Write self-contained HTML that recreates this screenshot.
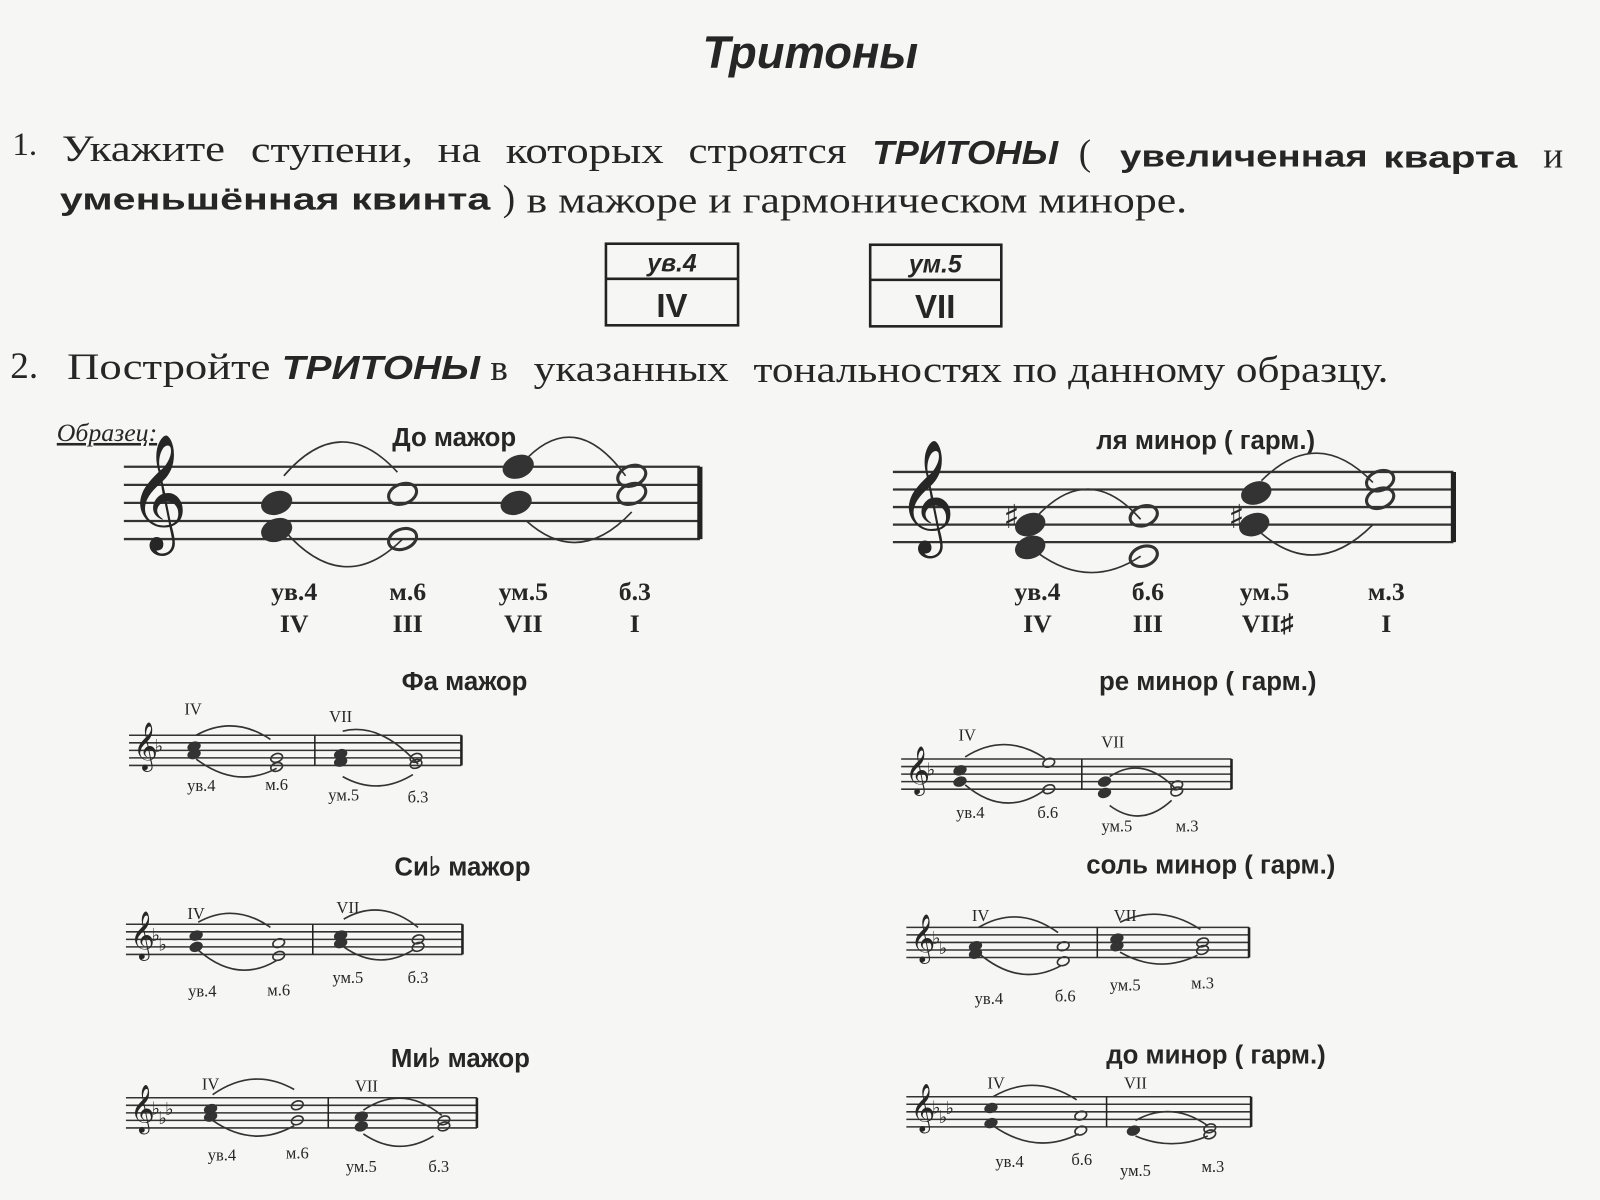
<!DOCTYPE html>
<html><head><meta charset="utf-8"><style>
html,body{margin:0;padding:0;background:#f6f6f4;}
svg{display:block}
text{fill:#262626}
.b{font-family:"Liberation Sans",sans-serif;font-weight:bold}
.s{font-family:"Liberation Serif",serif}
</style></head><body>
<svg width="1600" height="1200" viewBox="0 0 1550 1162" preserveAspectRatio="none" xmlns="http://www.w3.org/2000/svg">
<rect width="1550" height="1162" fill="#f6f6f4"/>
<text x="785" y="66" text-anchor="middle" class="b" font-size="44" font-style="italic" fill="#3a3a3a">Тритоны</text>
<text x="12" y="150" class="s" font-size="32">1.</text>
<g class="s" font-size="36" lengthAdjust="spacingAndGlyphs">
<text x="60" y="156" textLength="158" lengthAdjust="spacingAndGlyphs">Укажите</text>
<text x="243" y="157" textLength="157" lengthAdjust="spacingAndGlyphs">ступени,</text>
<text x="424" y="157" textLength="42" lengthAdjust="spacingAndGlyphs">на</text>
<text x="490" y="158" textLength="153" lengthAdjust="spacingAndGlyphs">которых</text>
<text x="667" y="158" textLength="153" lengthAdjust="spacingAndGlyphs">строятся</text>
<text x="845" y="159" textLength="180" lengthAdjust="spacingAndGlyphs" class="b" font-style="italic" font-size="32">ТРИТОНЫ</text>
<text x="1045" y="160">(</text>
<text x="1085" y="161" textLength="240" lengthAdjust="spacingAndGlyphs" class="b" font-size="30">увеличенная</text>
<text x="1340" y="162" textLength="130" lengthAdjust="spacingAndGlyphs" class="b" font-size="30">кварта</text>
<text x="1495" y="162">и</text>
<text x="58" y="203" textLength="417" lengthAdjust="spacingAndGlyphs" class="b" font-size="30">уменьшённая квинта</text>
<text x="487" y="204">)</text>
<text x="510" y="206" textLength="640" lengthAdjust="spacingAndGlyphs">в мажоре и гармоническом миноре.</text>
</g>
<g fill="none" stroke="#222" stroke-width="2.5">
<rect x="587" y="236" width="128" height="79"/><line x1="587" y1="270" x2="715" y2="270"/>
<rect x="843" y="237" width="127" height="79"/><line x1="843" y1="271" x2="970" y2="271"/>
</g>
<text x="651" y="263" text-anchor="middle" class="b" font-size="24" font-style="italic" fill="#444">ув.4</text>
<text x="651" y="307" text-anchor="middle" font-family="Liberation Sans" font-weight="bold" font-size="32">IV</text>
<text x="906" y="264" text-anchor="middle" class="b" font-size="24" font-style="italic" fill="#444">ум.5</text>
<text x="906" y="308" text-anchor="middle" font-family="Liberation Sans" font-weight="bold" font-size="32">VII</text>
<g class="s" font-size="36">
<text x="10" y="366">2.</text>
<text x="65" y="367" textLength="197" lengthAdjust="spacingAndGlyphs">Постройте</text>
<text x="273" y="367" textLength="192" lengthAdjust="spacingAndGlyphs" class="b" font-style="italic" font-size="32">ТРИТОНЫ</text>
<text x="475" y="368">в</text>
<text x="517" y="369" textLength="189" lengthAdjust="spacingAndGlyphs">указанных</text>
<text x="730" y="370" textLength="615" lengthAdjust="spacingAndGlyphs">тональностях по данному образцу.</text>
</g>
<text x="55" y="427" class="s" font-size="25" font-style="italic" text-decoration="underline" fill="#555">Образец:</text>
<g class="b" font-size="25" text-anchor="middle">
<text x="440" y="432">До мажор</text>
<text x="1168" y="435">ля минор ( гарм.)</text>
<text x="450" y="668">Фа мажор</text>
<text x="1170" y="668">ре минор ( гарм.)</text>
<text x="448" y="848">Си♭ мажор</text>
<text x="1173" y="846">соль минор ( гарм.)</text>
<text x="446" y="1033">Ми♭ мажор</text>
<text x="1178" y="1030">до минор ( гарм.)</text>
</g>
<g class="s" font-weight="bold" font-size="25" text-anchor="middle">
<text x="285" y="581">ув.4</text><text x="285" y="612">IV</text>
<text x="395" y="581">м.6</text><text x="395" y="612">III</text>
<text x="507" y="581">ум.5</text><text x="507" y="612">VII</text>
<text x="615" y="581">б.3</text><text x="615" y="612">I</text>
<text x="1005" y="581">ув.4</text><text x="1005" y="612">IV</text>
<text x="1112" y="581">б.6</text><text x="1112" y="612">III</text>
<text x="1225" y="581">ум.5</text><text x="1228" y="612">VII♯</text>
<text x="1343" y="581">м.3</text><text x="1343" y="612">I</text>
</g>
<g class="s" font-size="16" text-anchor="middle">
<text x="187" y="692">IV</text><text x="330" y="699">VII</text>
<text x="195" y="766">ув.4</text><text x="268" y="765">м.6</text><text x="333" y="775">ум.5</text><text x="405" y="777">б.3</text>
<text x="937" y="717">IV</text><text x="1078" y="724">VII</text>
<text x="940" y="792">ув.4</text><text x="1015" y="792">б.6</text><text x="1082" y="805">ум.5</text><text x="1150" y="805">м.3</text>
<text x="190" y="890">IV</text><text x="337" y="884">VII</text>
<text x="196" y="965">ув.4</text><text x="270" y="964">м.6</text><text x="337" y="952">ум.5</text><text x="405" y="952">б.3</text>
<text x="950" y="892">IV</text><text x="1090" y="892">VII</text>
<text x="958" y="972">ув.4</text><text x="1032" y="970">б.6</text><text x="1090" y="959">ум.5</text><text x="1165" y="957">м.3</text>
<text x="204" y="1055">IV</text><text x="355" y="1057">VII</text>
<text x="215" y="1124">ув.4</text><text x="288" y="1122">м.6</text><text x="350" y="1135">ум.5</text><text x="425" y="1135">б.3</text>
<text x="965" y="1054">IV</text><text x="1100" y="1054">VII</text>
<text x="978" y="1130">ув.4</text><text x="1048" y="1128">б.6</text><text x="1100" y="1139">ум.5</text><text x="1175" y="1135">м.3</text>
</g>
<g id="mus"></g>
</svg>
<script>
const NS="http://www.w3.org/2000/svg",g=document.getElementById('mus');
function el(t,a){const e=document.createElementNS(NS,t);for(const k in a)e.setAttribute(k,a[k]);g.appendChild(e);return e;}
function staff(x1,x2,y0,sp,bars,acc){
 for(let i=0;i<5;i++)el('line',{x1,x2,y1:y0+i*sp,y2:y0+i*sp,stroke:'#333','stroke-width':sp>10?2.2:1.5});
 el('line',{x1:x2,x2:x2,y1:y0,y2:y0+4*sp,stroke:'#222','stroke-width':sp>10?5:2.5});
 bars.forEach(b=>el('line',{x1:b,x2:b,y1:y0,y2:y0+4*sp,stroke:'#222','stroke-width':1.5}));
 const c=el('text',{x:x1+4,y:y0+3.3*sp,'font-size':sp*5.6,'font-family':'DejaVu Sans',fill:'#333'});c.textContent='𝄞';
 for(let i=0;i<acc;i++){const t=el('text',{x:x1+sp*3.4+i*sp*0.9,y:y0+(i==0?2.2:3.5)*sp-(i==2?1.2*sp:0),'font-size':sp*2.4,'font-family':'DejaVu Sans',fill:'#333'});t.textContent='♭';}
}
function note(x,y,sp,filled){el('ellipse',{cx:x,cy:y,rx:sp*0.8,ry:sp*0.55,fill:filled?'#333':'none',stroke:'#333','stroke-width':sp>10?3:1.6,transform:`rotate(-20 ${x} ${y})`});}
function arc(x1,y1,x2,y2,h){el('path',{d:`M${x1} ${y1} Q${(x1+x2)/2} ${(y1+y2)/2+h} ${x2} ${y2}`,fill:'none',stroke:'#333','stroke-width':1.6});}
let s=17.5,y=452;
staff(120,678,y,s,[],0);
note(268,y+3.5*s,s,1);note(268,y+2*s,s,1);note(390,y+1.5*s,s,0);note(390,y+4*s,s,0);
note(500,y+2*s,s,1);note(502,y,s,1);note(612,y+1.5*s,s,0);note(612,y+0.5*s,s,0);
arc(275,y+0.5*s,385,y+0.3*s,-62);arc(275,y+3.5*s,390,y+4*s,62);
arc(506,y-0.2*s,606,y+0.5*s,-62);arc(510,y+3*s,612,y+2.5*s,50);
y=457;s=17;
staff(865,1408,y,s,[],0);
note(998,y+3*s,s,1);note(998,y+4.3*s,s,1);note(1108,y+2.5*s,s,0);note(1108,y+4.8*s,s,0);
note(1215,y+3*s,s,1);note(1217,y+1.2*s,s,1);note(1337,y+1.5*s,s,0);note(1337,y+0.5*s,s,0);
[[972,y+3.2*s],[1190,y+3.2*s]].forEach(p=>{const t=el('text',{x:p[0],y:p[1],'font-size':32,'font-family':'DejaVu Sans',fill:'#333'});t.textContent='♯';});
arc(1005,y+2.5*s,1105,y+2.7*s,-55);arc(1005,y+4.6*s,1105,y+4.8*s,35);
arc(1222,y+0.5*s,1330,y+0.6*s,-55);arc(1222,y+3.5*s,1330,y+3*s,50);
function small(x1,x2,y0,bar,acc,n){const sp=7.3;staff(x1,x2,y0,sp,[bar],acc);
 n.forEach(q=>note(q[0],y0+q[1]*sp,sp,q[2]));}
small(125,447,712,305,1,[[188,1.5,1],[188,2.5,1],[268,3,0],[268,4.2,0],[330,2.5,1],[330,3.5,1],[403,3,0],[403,3.8,0]]);
arc(190,712,262,716,-22);arc(190,735,268,744,25);arc(332,708,405,740,-25);arc(332,752,400,750,20);
small(873,1193,735,1048,1,[[930,1.5,1],[930,3,1],[1016,0.5,0],[1016,4,0],[1070,3,1],[1070,4.5,1],[1140,3.5,0],[1140,4.3,0]]);
arc(935,733,1012,734,-25);arc(935,760,1012,765,30);arc(1075,752,1140,765,-28);arc(1075,780,1135,775,25);
small(122,448,895,303,2,[[190,1.5,1],[190,3,1],[270,2.5,0],[270,4.2,0],[330,1.5,1],[330,2.5,1],[405,2,0],[405,3,0]]);
arc(192,893,262,898,-22);arc(192,920,268,930,28);arc(333,890,405,898,-25);arc(333,917,400,920,22);
small(878,1210,898,1063,2,[[945,2.5,1],[945,3.5,1],[1030,2.5,0],[1030,4.5,0],[1082,1.5,1],[1082,2.5,1],[1165,2,0],[1165,3,0]]);
arc(948,898,1025,903,-25);arc(948,923,1028,935,28);arc(1085,893,1163,900,-22);arc(1085,922,1160,925,20);
small(122,462,1063,318,3,[[204,1.5,1],[204,2.5,1],[288,1,0],[288,3,0],[350,2.5,1],[350,3.8,1],[430,3,0],[430,3.8,0]]);
arc(206,1060,285,1055,-25);arc(206,1085,285,1090,25);arc(352,1075,428,1080,-28);arc(352,1098,420,1100,22);
small(878,1212,1062,1072,3,[[960,1.5,1],[960,3.5,1],[1047,2.5,0],[1047,4.5,0],[1098,4.5,1],[1172,4.2,0],[1172,5,0]]);
arc(962,1062,1043,1065,-25);arc(962,1090,1045,1098,25);arc(1100,1085,1170,1090,-22);arc(1100,1100,1170,1100,15);
</script>
</body></html>
